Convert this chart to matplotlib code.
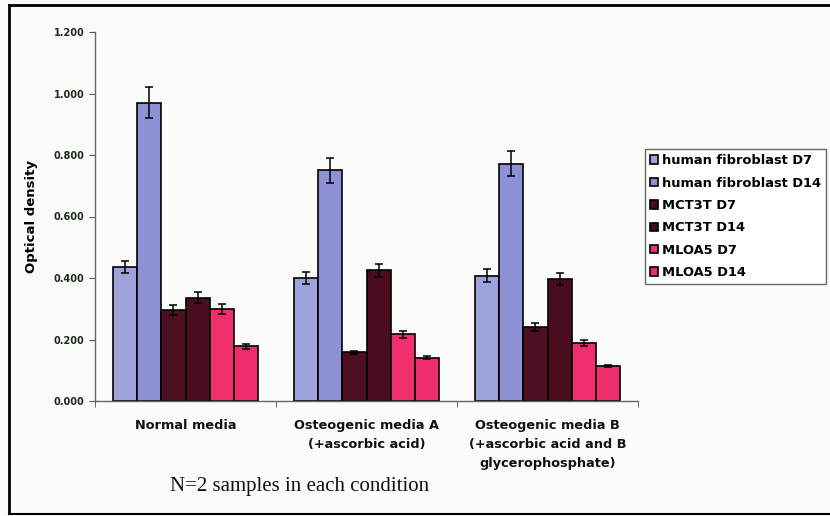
import matplotlib.pyplot as plt
import numpy as np
from matplotlib.lines import Line2D

plt.rcParams["font.family"] = ["DejaVu Sans"]

categories = ["Normal media",
              "Osteogenic media A\n(+ascorbic acid)",
              "Osteogenic media B\n(+ascorbic acid and B\nglycerophosphate)"]
series = ["human fibroblast D7", "human fibroblast D14",
          "MCT3T D7", "MCT3T D14", "MLOA5 D7", "MLOA5 D14"]
values = [
    [0.436, 0.400, 0.408],   # human fibroblast D7
    [0.970, 0.750, 0.772],   # human fibroblast D14
    [0.296, 0.158, 0.240],   # MCT3T D7
    [0.336, 0.425, 0.396],   # MCT3T D14
    [0.298, 0.217, 0.190],   # MLOA5 D7
    [0.178, 0.140, 0.113],   # MLOA5 D14
]
errors = [
    [0.020, 0.020, 0.020],
    [0.050, 0.040, 0.040],
    [0.015, 0.005, 0.013],
    [0.017, 0.022, 0.020],
    [0.016, 0.012, 0.010],
    [0.008, 0.005, 0.004],
]
colors = ["#9fa3dc", "#8e91d6", "#4b0f20", "#4a0d1f", "#f0306c", "#ee2d6b"]
yticks = [0.0, 0.2, 0.4, 0.6, 0.8, 1.0, 1.2]

fig = plt.figure(figsize=(8.3, 5.16), dpi=100)
fig.patch.set_facecolor("#fbfbf9")
ax = fig.add_axes([95/830, 1-401/516, (638-95)/830, (401-32)/516])
ax.set_facecolor("none")

x = np.arange(len(categories))
bw = 1/7.5
for i, (name, vals, errs, c) in enumerate(zip(series, values, errors, colors)):
    pos = x + (i - 2.5) * bw
    ax.bar(pos, vals, bw, color=c, edgecolor="black", linewidth=1.2, label=name,
           yerr=errs, error_kw=dict(ecolor="black", elinewidth=1.1, capsize=3, capthick=1.1))

ax.set_xlim(-0.5, 2.5)
ax.set_ylim(0, 1.2)
ax.set_yticks(yticks)
ax.set_yticklabels([f"{v:.3f}" for v in yticks], fontsize=7, fontweight="bold", color="#1c2a1c")
ax.set_xticks(x)
ax.set_xticklabels(categories, fontsize=9.3, fontweight="bold", color="#111111",
                   linespacing=1.6)
ax.tick_params(axis="x", length=0, pad=13)
ax.set_xticks([-0.5, 0.5, 1.5, 2.5], minor=True)
ax.tick_params(axis="x", which="minor", length=4, color="#555555", direction="out")
ax.tick_params(axis="y", length=4, color="#555555")
for s in ["top", "right"]:
    ax.spines[s].set_visible(False)
for s in ["left", "bottom"]:
    ax.spines[s].set_color("#666666")
    ax.spines[s].set_linewidth(1.0)
ax.set_ylabel("Optical density", fontsize=9.5, fontweight="bold", labelpad=11)

leg = fig.legend(loc="upper left", bbox_to_anchor=(645/830, 1-149/516),
                 prop=dict(size=9.4, weight="bold"), frameon=True, fancybox=False,
                 borderpad=0.4, labelspacing=0.72, handlelength=0.6, handleheight=0.6,
                 handletextpad=0.3, borderaxespad=0)
leg.get_frame().set_edgecolor("#444444")
leg.get_frame().set_linewidth(1.0)
leg.get_frame().set_facecolor("white")

fig.text(300/830, 1-487/516, "N=2 samples in each condition", family="Liberation Serif",
         fontsize=15, ha="center", va="center", color="#111111")

# scanned frame
fig.add_artist(Line2D([9/830, 9/830], [3/516, 1-5/516], transform=fig.transFigure, color="black", lw=2))
fig.add_artist(Line2D([9/830, 1], [1-5/516, 1-5/516], transform=fig.transFigure, color="black", lw=2))
fig.add_artist(Line2D([9/830, 1], [2/516, 2/516], transform=fig.transFigure, color="black", lw=1.5))

fig.savefig("out.png", dpi=100, facecolor=fig.get_facecolor())
